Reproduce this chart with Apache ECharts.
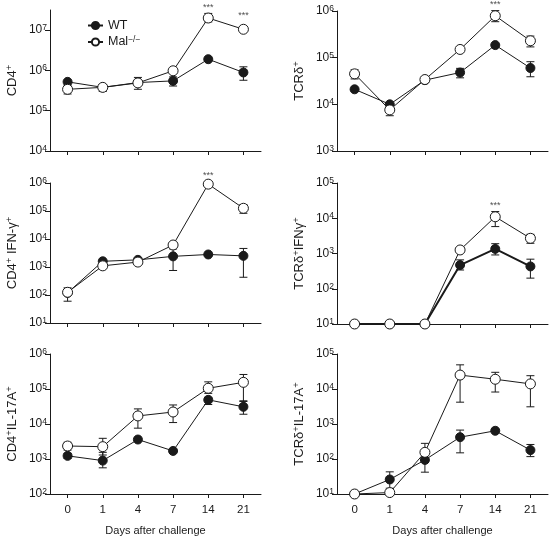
<!DOCTYPE html>
<html>
<head>
<meta charset="utf-8">
<script src="https://cdn.jsdelivr.net/npm/echarts@6/dist/echarts.min.js"></script>
<style>html,body{margin:0;padding:0;background:#fff;}#c{width:549px;height:536px;}</style>
</head>
<body>
<div id="c"></div>
<script>
// ---- data ----
const days = ['0', '1', '4', '7', '14', '21'];
const seriesNames = ['WT', 'Mal'];
const panelNames = ['CD4{s|+}', 'TCRδ{s|+}', 'CD4{s|+} IFN-γ{s|+}', 'TCRδ{s|+}IFNγ{s|+}', 'CD4{s|+}IL-17A{s|+}', 'TCRδ{s|+}IL-17A{s|+}'];
const yMinExp = [4, 3, 1, 1, 2, 1];
const yMaxExp = [7.5, 6, 6, 5, 6, 5];
const yTickExps = [[4, 5, 6, 7], [3, 4, 5, 6], [1, 2, 3, 4, 5, 6], [1, 2, 3, 4, 5], [2, 3, 4, 5, 6], [1, 2, 3, 4, 5]];

const wt1 = [5.2e5, 3.8e5, 5.0e5, 5.5e5, 1.9e6, 8.9e5];
const wtErr1 = [null, null, null, [4.1e5, 6.9e5], null, [5.7e5, 1.23e6]];
const mal1 = [3.4e5, 3.8e5, 4.9e5, 9.8e5, 2.0e7, 1.05e7];
const malErr1 = [[2.6e5, 4.3e5], [3.0e5, 4.4e5], [3.4e5, 6.7e5], null, [1.6e7, 2.6e7], null];
const sig1 = [null, null, null, null, 3.7e7, 2.3e7];

const wt2 = [2.1e4, 1.0e4, 3.3e4, 4.8e4, 1.86e5, 6.0e4];
const wtErr2 = [null, null, null, [3.7e4, 5.9e4], null, [3.9e4, 8.2e4]];
const mal2 = [4.5e4, 7.6e3, 3.4e4, 1.5e5, 7.9e5, 2.3e5];
const malErr2 = [[3.5e4, 5.5e4], [5.7e3, 9.7e3], null, null, [5.9e5, 1.02e6], [1.7e5, 2.9e5]];
const sig2 = [null, null, null, null, 1.4e6, null];

const wt3 = [1.2e2, 1.6e3, 1.8e3, 2.4e3, 2.8e3, 2.5e3];
const wtErr3 = [null, null, null, [7.5e2, 4.4e3], null, [4.3e2, 4.6e3]];
const mal3 = [1.25e2, 1.1e3, 1.5e3, 6.1e3, 9.1e5, 1.25e5];
const malErr3 = [[60, 1.8e2], null, [1.3e3, 1.8e3], null, null, [8.3e4, 1.7e5]];
const sig3 = [null, null, null, null, 1.8e6, null];

const wt4 = [10, 10, 10, 4.7e2, 1.35e3, 4.3e2];
const wtErr4 = [null, null, null, [3.4e2, 6.6e2], [9.1e2, 1.9e3], [2.0e2, 6.9e2]];
const mal4 = [10, 10, 10, 1.26e3, 1.1e4, 2.7e3];
const malErr4 = [null, null, null, null, [5.8e3, 1.55e4], [1.95e3, 3.5e3]];
const sig4 = [null, null, null, null, 2.3e4, null];

const wt5 = [1.23e3, 9.0e2, 3.6e3, 1.7e3, 4.9e4, 3.1e4];
const wtErr5 = [[1.05e3, 1.45e3], [5.6e2, 1.55e3], null, null, [3.6e4, 5.8e4], [1.9e4, 4.6e4]];
const mal5 = [2.35e3, 2.25e3, 1.7e4, 2.2e4, 1.05e5, 1.55e5];
const malErr5 = [[1.8e3, 3.0e3], [1.3e3, 3.9e3], [7.6e3, 2.7e4], [1.1e4, 3.5e4], [7.5e4, 1.6e5], [4.4e4, 2.6e5]];
const sig5 = [null, null, null, null, null, null];

const wt6 = [10, 26, 94, 4.2e2, 6.4e2, 1.8e2];
const wtErr6 = [null, [14.6, 43], [42, 1.45e2], [1.5e2, 6.7e2], null, [1.17e2, 2.6e2]];
const mal6 = [10, 11, 1.55e2, 2.5e4, 1.9e4, 1.4e4];
const malErr6 = [null, null, [1.0e2, 2.8e2], [4.2e3, 4.9e4], [8.2e3, 3.0e4], [3.1e3, 2.4e4]];
const sig6 = [null, null, null, null, null, null];

const panels = [
  {wt: wt1, wtErr: wtErr1, mal: mal1, malErr: malErr1, sig: sig1},
  {wt: wt2, wtErr: wtErr2, mal: mal2, malErr: malErr2, sig: sig2},
  {wt: wt3, wtErr: wtErr3, mal: mal3, malErr: malErr3, sig: sig3},
  {wt: wt4, wtErr: wtErr4, mal: mal4, malErr: malErr4, sig: sig4},
  {wt: wt5, wtErr: wtErr5, mal: mal5, malErr: malErr5, sig: sig5},
  {wt: wt6, wtErr: wtErr6, mal: mal6, malErr: malErr6, sig: sig6}
];

// ---- layout ----
const FONT = 'Liberation Sans, Arial, Helvetica, sans-serif';
const INK = '#1a1a1a';
const gridBoxes = [
  {left: 50, top: 10, width: 211, height: 141},
  {left: 337, top: 11, width: 211, height: 140},
  {left: 50, top: 183, width: 211, height: 140},
  {left: 337, top: 183, width: 211, height: 141},
  {left: 50, top: 354, width: 211, height: 140},
  {left: 337, top: 354, width: 211, height: 140}
];

const grids = [], xAxes = [], yAxes = [], series = [];

function errRender(params, api) {
  const x = api.value(0);
  const lo = api.coord([x, api.value(1)]);
  const hi = api.coord([x, api.value(2)]);
  const w = 4;
  const st = {stroke: INK, lineWidth: 1, fill: null};
  return {
    type: 'group',
    children: [
      {type: 'line', shape: {x1: lo[0], y1: lo[1], x2: hi[0], y2: hi[1]}, style: st},
      {type: 'line', shape: {x1: hi[0] - w, y1: hi[1], x2: hi[0] + w, y2: hi[1]}, style: st},
      {type: 'line', shape: {x1: lo[0] - w, y1: lo[1], x2: lo[0] + w, y2: lo[1]}, style: st}
    ]
  };
}

panels.forEach((p, i) => {
  const bottom = i >= 4;
  grids.push(Object.assign({outerBoundsMode: 'none', containLabel: false}, gridBoxes[i]));
  xAxes.push({
    type: 'category', gridIndex: i, data: days, boundaryGap: true,
    axisLine: {lineStyle: {color: INK, width: 1}},
    axisTick: {show: true, alignWithLabel: true, length: 4, lineStyle: {color: INK}},
    axisLabel: {show: bottom, margin: 10, fontSize: 11.5, color: INK, fontFamily: FONT},
    name: bottom ? 'Days after challenge' : '',
    nameLocation: 'middle', nameGap: 31,
    nameTextStyle: {fontSize: 11, color: INK, fontFamily: FONT},
    splitLine: {show: false}
  });
  const tickVals = yTickExps[i].map(e => Math.pow(10, e));
  yAxes.push({
    type: 'log', logBase: 10, gridIndex: i,
    min: Math.pow(10, yMinExp[i]), max: Math.pow(10, yMaxExp[i]),
    axisLine: {show: true, lineStyle: {color: INK, width: 1}},
    axisTick: {show: true, length: 5, lineStyle: {color: INK}, customValues: tickVals},
    minorTick: {show: false},
    splitLine: {show: false},
    axisLabel: {
      customValues: tickVals, margin: 3, color: INK, fontFamily: FONT,
      formatter: v => '{b|10}{s|' + Math.round(Math.log10(v)) + '}',
      rich: {
        b: {fontSize: 12, color: INK, fontFamily: FONT},
        s: {fontSize: 8.5, color: INK, fontFamily: FONT, verticalAlign: 'top', padding: [0, 0, 5, 0]}
      }
    },
    name: panelNames[i], nameLocation: 'middle', nameGap: 30,
    nameTextStyle: {
      fontSize: 13, color: INK, fontFamily: FONT,
      rich: {s: {fontSize: 9.5, color: INK, fontFamily: FONT, padding: [0, 0, 6, 0]}}
    }
  });
  series.push({
    type: 'custom', name: 'wtErr' + i, xAxisIndex: i, yAxisIndex: i, z: 2,
    renderItem: errRender, silent: true,
    data: p.wtErr.map((e, k) => e ? [k, e[0], e[1]] : null).filter(d => d)
  });
  series.push({
    type: 'custom', name: 'malErr' + i, xAxisIndex: i, yAxisIndex: i, z: 2,
    renderItem: errRender, silent: true,
    data: p.malErr.map((e, k) => e ? [k, e[0], e[1]] : null).filter(d => d)
  });
  series.push({
    type: 'line', name: seriesNames[0], xAxisIndex: i, yAxisIndex: i, z: 3,
    data: p.wt, symbol: 'circle', symbolSize: 9, showSymbol: true,
    lineStyle: {color: INK, width: i === 3 ? 2 : 1},
    itemStyle: {color: INK, borderColor: INK, borderWidth: 1},
    animation: false
  });
  series.push({
    type: 'line', name: seriesNames[1], xAxisIndex: i, yAxisIndex: i, z: 4,
    data: p.mal, symbol: 'circle', symbolSize: 10, showSymbol: true,
    lineStyle: {color: INK, width: 1},
    itemStyle: {color: '#fff', borderColor: INK, borderWidth: 1},
    animation: false
  });
  series.push({
    type: 'scatter', name: 'sig' + i, xAxisIndex: i, yAxisIndex: i, z: 5,
    clip: false, symbolSize: 0, silent: true,
    data: p.sig.map((v, k) => v === null ? null : [k, v]).filter(d => d),
    label: {show: true, position: 'inside', formatter: '***', fontSize: 9, color: INK, fontFamily: FONT}
  });
});

const chart = echarts.init(document.getElementById('c'), null, {renderer: 'canvas'});
chart.setOption({
  animation: false,
  backgroundColor: '#fff',
  grid: grids, xAxis: xAxes, yAxis: yAxes, series: series,
  legend: {
    data: seriesNames, orient: 'vertical', left: 82, top: 14,
    itemWidth: 15, itemHeight: 9, itemGap: 3,
    textStyle: {fontSize: 12.5, color: INK, fontFamily: FONT,
      rich: {s: {fontSize: 8.5, color: INK, fontFamily: FONT, verticalAlign: 'top', padding: [0, 0, 5, 0]}}},
    formatter: n => n === 'Mal' ? 'Mal{s|−/−}' : n,
    selectedMode: false
  }
});
</script>
</body>
</html>
